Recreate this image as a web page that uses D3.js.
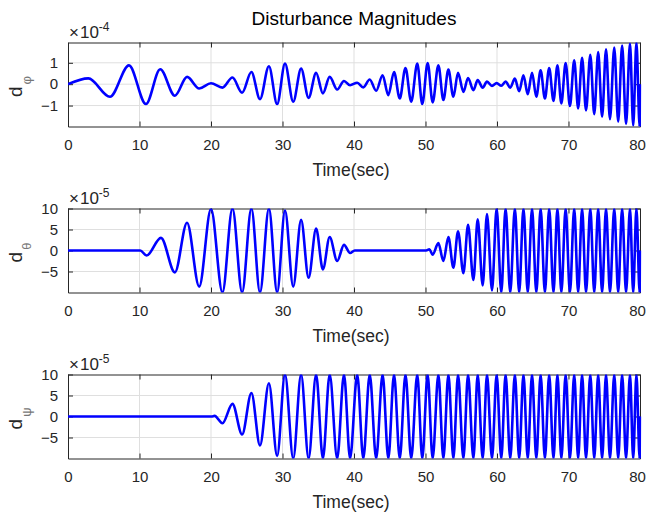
<!DOCTYPE html>
<html>
<head>
<meta charset="utf-8">
<script src="https://cdn.jsdelivr.net/npm/d3@7/dist/d3.min.js"></script>
<style>
  body { margin: 0; background: #fff; }
  text { font-family: "Liberation Sans", Arial, Helvetica, sans-serif; fill: #262626; }
</style>
</head>
<body>
<div id="chart"></div>
<script>

// peaks and troughs, [time (s), value]
// d_phi, in units of 1e-4
var phiPts = [[0,0],[2.85,0.27],[5.87,-0.59],[8.53,0.88],[10.9,-0.93],[12.9,0.70],[14.95,-0.54],
  [16.65,0.34],[18.35,-0.20],[20.0,0.04],[21.6,-0.16],[23.0,0.31],[24.35,-0.40],[25.65,0.57],
  [26.85,-0.70],[28.1,0.84],[29.25,-0.93],[30.35,0.96],[31.5,-0.82],[32.6,0.73],[33.65,-0.64],
  [34.7,0.53],[35.65,-0.43],[36.6,0.34],[37.65,-0.25],[38.6,0.15],[39.45,-0.05],[40.45,0.07],
  [41.3,-0.15],[42.2,0.22],[43.1,-0.31],[44.0,0.42],[44.8,-0.51],[45.6,0.57],[46.4,-0.67],
  [47.2,0.76],[48.0,-0.82],[48.85,0.96],[49.55,-0.93],[50.3,0.99],[51.0,-0.85],[51.8,0.88],
  [52.5,-0.74],[53.2,0.68],[53.9,-0.59],[54.55,0.53],[55.3,-0.36],[55.95,0.29],[56.7,-0.28],
  [57.3,0.19],[58.0,-0.16],[58.6,0.12],[59.3,-0.08],[59.95,0.05],[60.6,-0.07],[61.2,0.12],
  [61.85,-0.16],[62.5,0.26],[63.1,-0.33],[63.7,0.42],[64.3,-0.47],[64.9,0.53],[65.5,-0.59],
  [66.1,0.65],[66.7,-0.67],[67.3,0.76],[67.9,-0.78],[68.45,0.88],[69.0,-0.90],[69.6,0.99],
  [70.2,-1.02],[70.8,1.12],[71.35,-1.13],[71.9,1.24],[72.45,-1.23],[73.05,1.38],[73.6,-1.40],
  [74.15,1.50],[74.7,-1.52],[75.25,1.63],[75.8,-1.64],[76.4,1.71],[76.95,-1.75],[77.5,1.81],
  [78.05,-1.86],[78.6,1.90],[79.05,-1.94],[79.5,1.95],[79.95,-1.98],[80,0]];

// d_theta, in units of 1e-5
var thetaPts = [[0,0],[10.1,0],[11.0,-1.2],[13.0,3.0],[14.95,-5.2],[16.65,6.6],[18.35,-8.6],
  [20.0,9.9],[21.6,-10],[23.0,10],[24.35,-10],[25.65,10],[26.85,-10],[28.1,10],[29.25,-10],
  [30.35,9.5],[31.5,-8.6],[32.6,7.3],[33.65,-6.5],[34.7,5.2],[35.65,-4.5],[36.6,3.2],
  [37.65,-2.5],[38.6,1.35],[39.45,-0.6],[40.1,0],[50.1,0],[50.55,0.3],[51.0,-1.0],[51.8,1.75],
  [52.5,-2.5],[53.2,3.2],[53.9,-4.1],[54.55,4.6],[55.3,-5.4],[55.95,6.1],[56.7,-7.0],
  [57.3,7.4],[58.0,-8.3],[58.6,8.7],[59.3,-9.5],[59.95,10],[60.6,-10],[61.2,10],[61.85,-10],
  [62.5,10],[63.1,-10],[63.7,10],[64.3,-10],[64.9,10],[65.5,-10],[66.1,10],[66.7,-10],
  [67.3,10],[67.9,-10],[68.45,10],[69.0,-10],[69.6,10],[70.2,-10],[70.8,10],[71.35,-10],
  [71.9,10],[72.45,-10],[73.05,10],[73.6,-10],[74.15,10],[74.7,-10],[75.25,10],[75.8,-10],
  [76.4,10],[76.95,-10],[77.5,10],[78.05,-10],[78.6,10],[79.05,-10],[79.5,10],[79.95,-10],[80,0]];

// d_psi, in units of 1e-5
var psiPts = [[0,0],[20.1,0],[20.5,0.15],[21.6,-1.6],[23.0,3.0],[24.35,-4.3],[25.65,5.6],
  [26.85,-6.9],[28.1,7.9],[29.25,-9.4],[30.35,10],[31.5,-10],[32.6,10],[33.65,-10],[34.7,10],
  [35.65,-10],[36.6,10],[37.65,-10],[38.6,10],[39.45,-10],[40.45,10],[41.3,-10],[42.2,10],
  [43.1,-10],[44.0,10],[44.8,-10],[45.6,10],[46.4,-10],[47.2,10],[48.0,-10],[48.85,10],
  [49.55,-10],[50.3,10],[51.0,-10],[51.8,10],[52.5,-10],[53.2,10],[53.9,-10],[54.55,10],
  [55.3,-10],[55.95,10],[56.7,-10],[57.3,10],[58.0,-10],[58.6,10],[59.3,-10],[59.95,10],
  [60.6,-10],[61.2,10],[61.85,-10],[62.5,10],[63.1,-10],[63.7,10],[64.3,-10],[64.9,10],
  [65.5,-10],[66.1,10],[66.7,-10],[67.3,10],[67.9,-10],[68.45,10],[69.0,-10],[69.6,10],
  [70.2,-10],[70.8,10],[71.35,-10],[71.9,10],[72.45,-10],[73.05,10],[73.6,-10],[74.15,10],
  [74.7,-10],[75.25,10],[75.8,-10],[76.4,10],[76.95,-10],[77.5,10],[78.05,-10],[78.6,10],
  [79.05,-10],[79.5,10],[79.95,-10],[80,0]];

var xTicks = [0, 10, 20, 30, 40, 50, 60, 70, 80];
var phiTicks = [-1, 0, 1];
var angleTicks = [-5, 0, 5, 10];
var subs = ["\u03c6", "\u03b8", "\u03c8"];
var exps = ["-4", "-5", "-5"];
var title = "Disturbance Magnitudes";
var xLabel = "Time(sec)";

var width = 646, height = 515;
var left = 68, right = 640;

var panels = [
  {pts: phiPts,   top: 42.5,  bottom: 126.5, ylim: [-1.98, 1.95], ticks: phiTicks},
  {pts: thetaPts, top: 208.5, bottom: 292.5, ylim: [-10, 10],     ticks: angleTicks},
  {pts: psiPts,   top: 374.5, bottom: 458.5, ylim: [-10, 10],     ticks: angleTicks}
];

var svg = d3.select("#chart").append("svg")
    .attr("width", width)
    .attr("height", height);

var x = d3.scaleLinear().domain([0, 80]).range([left, right]);

svg.append("text")
    .attr("x", (left + right) / 2)
    .attr("y", 25)
    .attr("text-anchor", "middle")
    .style("font-size", "19px")
    .style("fill", "#000")
    .text(title);

panels.forEach(function(p, i) {
  var y = d3.scaleLinear().domain(p.ylim).range([p.bottom, p.top]);
  var g = svg.append("g");

  // grid
  g.append("g").selectAll("line")
    .data(xTicks.slice(1, -1))
    .join("line")
      .attr("x1", d => x(d)).attr("x2", d => x(d))
      .attr("y1", p.top).attr("y2", p.bottom)
      .attr("stroke", "#dfdfdf");
  g.append("g").selectAll("line")
    .data(p.ticks.filter(d => y(d) > p.top + 1))
    .join("line")
      .attr("x1", left).attr("x2", right)
      .attr("y1", d => y(d)).attr("y2", d => y(d))
      .attr("stroke", "#dfdfdf");

  svg.append("clipPath").attr("id", "clip" + i)
    .append("rect")
      .attr("x", left).attr("y", p.top)
      .attr("width", right - left + 1.5).attr("height", p.bottom - p.top);

  // axes
  var xa = g.append("g")
      .attr("transform", `translate(0,${p.bottom})`)
      .call(d3.axisBottom(x).tickValues(xTicks).tickSizeInner(-5).tickSizeOuter(0).tickPadding(13));
  // keep the last label inside the window
  xa.selectAll(".tick text").filter(d => d === 80).attr("x", -3);
  g.append("g")
      .attr("transform", `translate(0,${p.top})`)
      .call(d3.axisTop(x).tickValues(xTicks).tickSizeInner(-5).tickSizeOuter(0).tickFormat(""));
  g.append("g")
      .attr("transform", `translate(${left},0)`)
      .call(d3.axisLeft(y).tickValues(p.ticks).tickFormat(d3.format("d"))
          .tickSizeInner(-5).tickSizeOuter(0).tickPadding(10));
  g.append("g")
      .attr("transform", `translate(${right},0)`)
      .call(d3.axisRight(y).tickValues(p.ticks).tickSizeInner(-5).tickSizeOuter(0).tickFormat(""));

  g.selectAll(".domain").attr("stroke", "#262626");
  g.selectAll(".tick line").attr("stroke", "#262626");
  g.selectAll(".tick text")
      .style("font-size", "15px")
      .style("font-family", "'Liberation Sans', Arial, sans-serif")
      .attr("fill", "#262626");

  // signal
  g.append("path")
      .datum(p.pts)
      .attr("clip-path", `url(#clip${i})`)
      .attr("fill", "none")
      .attr("stroke", "#0000ff")
      .attr("stroke-width", 2.6)
      .attr("stroke-linejoin", "round")
      .attr("d", d3.line()
          .curve(d3.curveMonotoneX)
          .x(d => x(d[0]))
          .y(d => y(d[1])));

  // x10^n
  var ex = g.append("text")
      .attr("x", left + 1)
      .attr("y", p.top - 5)
      .style("font-size", "17px");
  ex.append("tspan").text("\u00d7");
  ex.append("tspan").attr("dx", 1).text("10");
  ex.append("tspan").attr("dy", -7).style("font-size", "12px").text(exps[i]);

  // y label
  var yl = g.append("text")
      .attr("transform", `translate(22,${(p.top + p.bottom) / 2 + 2}) rotate(-90)`)
      .attr("text-anchor", "middle")
      .style("font-size", "19px");
  yl.append("tspan").text("d");
  yl.append("tspan").attr("dx", 2).attr("dy", 9).style("font-size", "13px").style("fill", "#777").text(subs[i]);

  // x label
  g.append("text")
      .attr("x", (left + right) / 2 - 3)
      .attr("y", p.bottom + 49)
      .attr("text-anchor", "middle")
      .style("font-size", "17.5px")
      .text(xLabel);
});

</script>
</body>
</html>
